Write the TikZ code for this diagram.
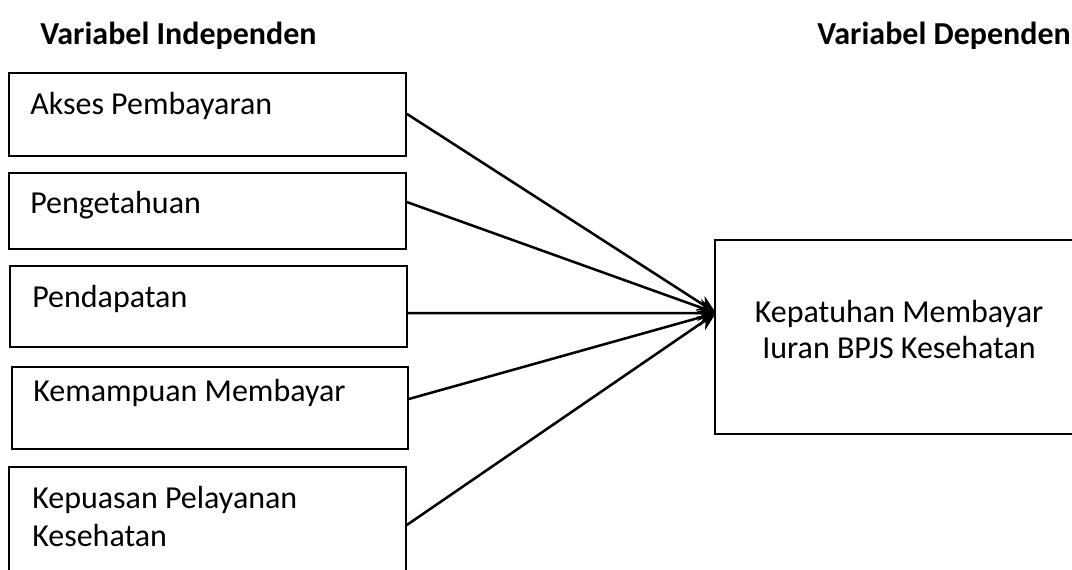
\documentclass[tikz,border=0pt]{standalone}
\usepackage{fontspec}
\setmainfont{Carlito}
\usetikzlibrary{arrows.meta,fit}
\begin{document}
\begin{tikzpicture}[x=0.75pt,y=-0.75pt,
  box/.style={draw=black,line width=1.2pt,inner sep=0pt,rectangle},
  lbl/.style={anchor=base west,inner sep=0pt,font=\fontsize{24pt}{28pt}\selectfont},
  clbl/.style={anchor=base,inner sep=0pt,font=\fontsize{24pt}{28pt}\selectfont},
  head/.style={anchor=base west,inner sep=0pt,font=\fontsize{24pt}{28pt}\selectfont\bfseries},
  link/.style={line width=1.9pt,-{Stealth[length=14pt,width=12pt]}}]
\clip (0,0) rectangle (1072,569);
\useasboundingbox (0,0) rectangle (1072,569);
% headings
\node[head] (hi) at (40,44) {Variabel Independen};
\node[head] (hd) at (817,44) {Variabel Dependen};
% independent boxes
\node[box,fit={(9,73) (406,156)}] (b1) {};
\node[box,fit={(9,173) (406,249)}] (b2) {};
\node[box,fit={(10,266) (407,347)}] (b3) {};
\node[box,fit={(12,367) (408,449)}] (b4) {};
\node[box,fit={(9,467) (406,580)}] (b5) {};
\node[lbl] (t1) at (30,114) {Akses Pembayaran};
\node[lbl] (t2) at (30,213) {Pengetahuan};
\node[lbl] (t3) at (32,307) {Pendapatan};
\node[lbl] (t4) at (33,401) {Kemampuan Membayar};
\node[lbl] (t5a) at (32,508) {Kepuasan Pelayanan};
\node[lbl] (t5b) at (32,546) {Kesehatan};
% dependent box
\node[box,fit={(715,240) (1085,434)}] (d) {};
\node[clbl] (td1) at (899,322) {Kepatuhan Membayar};
\node[clbl] (td2) at (899,358) {Iuran BPJS Kesehatan};
\coordinate (tip) at (716,313);
% connectors
\draw[link] ([yshift=0.5pt]b1.east) -- (tip);
\draw[link] ([yshift=6.75pt]b2.east) -- (tip);
\draw[link] ([yshift=-5pt]b3.east) -- (tip);
\draw[link] ([yshift=6.75pt]b4.east) -- (tip);
\draw[link] (b5.east |- 0,525) -- (tip);
\end{tikzpicture}
\end{document}
